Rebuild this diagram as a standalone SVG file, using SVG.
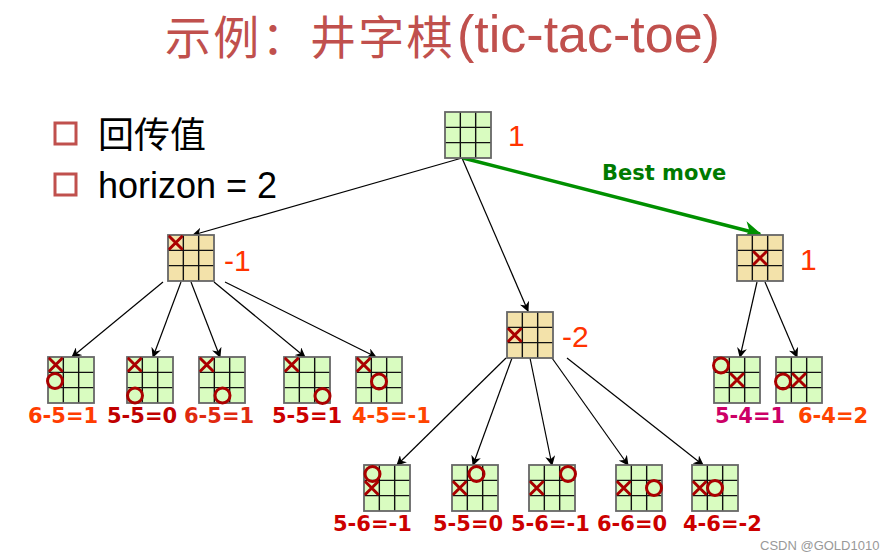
<svg xmlns="http://www.w3.org/2000/svg" xmlns:xlink="http://www.w3.org/1999/xlink" width="891" height="560" viewBox="0 0 891 560">
<style>
.title{font-family:"Noto Sans CJK SC","Noto Sans",sans-serif;font-size:46px;fill:#c0504d;letter-spacing:2.3px}
.titlel{font-family:"Liberation Sans",sans-serif;font-size:52px;fill:#c0504d}
.bul{fill:none;stroke:#c0504d;stroke-width:3}
.btxt{font-family:"Liberation Sans","Noto Sans CJK SC",sans-serif;font-size:36px;fill:#000}
.val{font-family:"Liberation Sans",sans-serif;font-size:30px;fill:#ff3300}
.lab{font-family:"DejaVu Sans",sans-serif;font-weight:bold;font-size:21px}
.best{font-family:"DejaVu Sans",sans-serif;font-weight:bold;font-size:21px;fill:#007a00}
.edge{stroke:#000;stroke-width:1.2;fill:none;marker-end:url(#arr)}
.bestedge{stroke:#009000;stroke-width:3.5;fill:none;marker-end:url(#garr)}
.x{stroke:#aa0000;stroke-width:3;stroke-linecap:round;fill:none}
.o{stroke:#aa0000;stroke-width:3;fill:none}
.wm{font-family:"Liberation Sans",sans-serif;font-size:13px;fill:#999}
</style>
<defs>
<marker id="arr" viewBox="0 0 10 10" refX="9" refY="5" markerWidth="10" markerHeight="10" markerUnits="userSpaceOnUse" orient="auto">
<path d="M0,0 L10,5 L0,10 L3,5 z" fill="#000"/>
</marker>
<marker id="garr" viewBox="0 0 10 10" refX="9" refY="5" markerWidth="18" markerHeight="18" markerUnits="userSpaceOnUse" orient="auto">
<path d="M0,0 L10,5 L0,10 L3,5 z" fill="#009000"/>
</marker>
<g id="gridlines">
<path d="M15.33,0 V46 M30.67,0 V46 M0,15.33 H46 M0,30.67 H46" stroke="#111" stroke-width="1.4"/>
<rect x="0" y="0" width="46" height="46" fill="none" stroke="#666" stroke-width="1.8"/>
</g>
<g id="green"><rect x="0" y="0" width="46" height="46" fill="#d9fcc0"/><use xlink:href="#gridlines"/></g>
<g id="tan"><rect x="0" y="0" width="46" height="46" fill="#f3e2aa"/><use xlink:href="#gridlines"/></g>
<path id="X" class="x" d="M-6,-6 L6,6 M6,-6 L-6,6"/>
<circle id="O" class="o" r="7.5"/>
</defs>
<rect width="891" height="560" fill="#fff"/>
<text class="title" x="165" y="54">示例：井字棋</text>
<text class="titlel" x="457" y="52">(tic-tac-toe)</text>
<rect class="bul" x="55" y="123" width="21" height="21"/>
<text class="btxt" x="98" y="148">回传值</text>
<rect class="bul" x="55" y="174" width="21" height="21"/>
<text class="btxt" x="98" y="198">horizon = 2</text>
<g id="connectors">
<line class="edge" x1="462" y1="158" x2="193" y2="235"/>
<line class="edge" x1="462" y1="158" x2="528" y2="311"/>
<line class="bestedge" x1="463" y1="158" x2="760" y2="234"/>
<line class="edge" x1="163" y1="282" x2="72" y2="357"/>
<line class="edge" x1="181" y1="282" x2="153" y2="357"/>
<line class="edge" x1="191" y1="282" x2="220" y2="357"/>
<line class="edge" x1="214" y1="282" x2="305" y2="357"/>
<line class="edge" x1="225" y1="282" x2="376" y2="357"/>
<line class="edge" x1="506" y1="358" x2="397" y2="465"/>
<line class="edge" x1="512" y1="358" x2="473" y2="465"/>
<line class="edge" x1="530" y1="358" x2="552" y2="465"/>
<line class="edge" x1="552" y1="358" x2="628" y2="465"/>
<line class="edge" x1="567" y1="358" x2="703" y2="465"/>
<line class="edge" x1="757" y1="282" x2="740" y2="357"/>
<line class="edge" x1="765" y1="282" x2="797" y2="357"/>
</g>
<text class="best" x="602" y="180">Best move</text>
<g id="root"><use xlink:href="#green" x="445" y="112"/><text class="val" x="508" y="146">1</text></g>
<g id="nL"><use xlink:href="#tan" x="168" y="235"/><use xlink:href="#X" x="175.7" y="242.7"/><text class="val" x="224" y="271">-1</text></g>
<g id="nM"><use xlink:href="#tan" x="507" y="312"/><use xlink:href="#X" x="514.7" y="335"/><text class="val" x="562" y="347">-2</text></g>
<g id="nR"><use xlink:href="#tan" x="737" y="235"/><use xlink:href="#X" x="760" y="258"/><text class="val" x="800" y="270">1</text></g>
<g id="l1"><use xlink:href="#green" x="48" y="357"/><use xlink:href="#X" x="55.7" y="364.7"/><use xlink:href="#O" x="55" y="381"/><text class="lab" x="28" y="423" fill="#ff3c00">6-5=1</text></g>
<g id="l2"><use xlink:href="#green" x="127" y="357"/><use xlink:href="#X" x="134.7" y="364.7"/><use xlink:href="#O" x="135" y="395.5"/><text class="lab" x="107" y="423" fill="#c00000">5-5=0</text></g>
<g id="l3"><use xlink:href="#green" x="199" y="357"/><use xlink:href="#X" x="206.7" y="364.7"/><use xlink:href="#O" x="222.5" y="395.5"/><text class="lab" x="184" y="423" fill="#e02a10">6-5=1</text></g>
<g id="l4"><use xlink:href="#green" x="284" y="357"/><use xlink:href="#X" x="291.7" y="364.7"/><use xlink:href="#O" x="322.5" y="396"/><text class="lab" x="272" y="423" fill="#cc0000">5-5=1</text></g>
<g id="l5"><use xlink:href="#green" x="356" y="357"/><use xlink:href="#X" x="363.7" y="364.7"/><use xlink:href="#O" x="379" y="381.5"/><text class="lab" x="352" y="423" fill="#ff4400">4-5=-1</text></g>
<g id="r1"><use xlink:href="#green" x="714" y="357"/><use xlink:href="#X" x="737" y="380"/><use xlink:href="#O" x="721" y="365.5"/><text class="lab" x="715" y="423" fill="#cc0066">5-4=1</text></g>
<g id="r2"><use xlink:href="#green" x="776" y="357"/><use xlink:href="#X" x="799" y="380"/><use xlink:href="#O" x="783" y="381.5"/><text class="lab" x="798" y="423" fill="#ff4400">6-4=2</text></g>
<g id="m1"><use xlink:href="#green" x="364" y="465"/><use xlink:href="#X" x="371.7" y="488"/><use xlink:href="#O" x="372.5" y="474"/><text class="lab" x="333" y="531" fill="#cc0000">5-6=-1</text></g>
<g id="m2"><use xlink:href="#green" x="452" y="465"/><use xlink:href="#X" x="459.7" y="488"/><use xlink:href="#O" x="476.5" y="474"/><text class="lab" x="433" y="531" fill="#cc0000">5-5=0</text></g>
<g id="m3"><use xlink:href="#green" x="529" y="465"/><use xlink:href="#X" x="536.7" y="488"/><use xlink:href="#O" x="568" y="474"/><text class="lab" x="511" y="531" fill="#cc0000">5-6=-1</text></g>
<g id="m4"><use xlink:href="#green" x="616" y="465"/><use xlink:href="#X" x="623.7" y="488"/><use xlink:href="#O" x="654" y="488"/><text class="lab" x="597" y="531" fill="#cc0000">6-6=0</text></g>
<g id="m5"><use xlink:href="#green" x="692" y="465"/><use xlink:href="#X" x="699.7" y="488"/><use xlink:href="#O" x="715" y="488"/><text class="lab" x="683" y="531" fill="#cc0000">4-6=-2</text></g>
<text class="wm" x="760" y="550">CSDN @GOLD1010</text>
</svg>
